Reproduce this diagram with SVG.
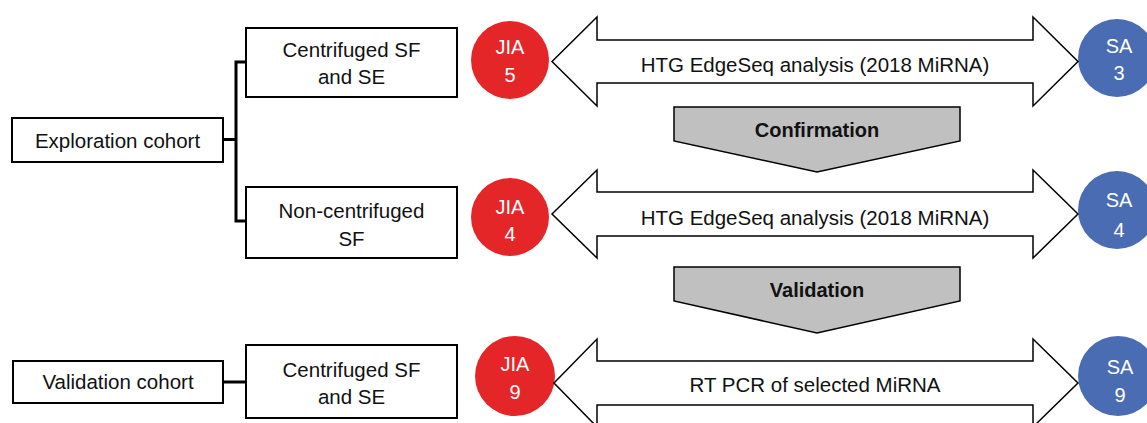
<svg xmlns="http://www.w3.org/2000/svg" width="1147" height="423" viewBox="0 0 1147 423">
<style>
.box{fill:#fff;stroke:#000;stroke-width:2}
.t{font-family:"Liberation Sans",Arial,sans-serif;font-size:20.5px;fill:#111;text-anchor:middle}
.w{font-family:"Liberation Sans",Arial,sans-serif;font-size:20px;fill:#fff;text-anchor:middle}
.b{font-family:"Liberation Sans",Arial,sans-serif;font-size:20px;font-weight:bold;fill:#111;text-anchor:middle}
.red{fill:#e52629}
.blue{fill:#4a6cb3}
.arr{fill:#fff;stroke:#000;stroke-width:1.5;stroke-linejoin:miter}
.pent{fill:#c0c0c0;stroke:#000;stroke-width:1.5}
.ln{fill:none;stroke:#000;stroke-width:3}
</style>
<rect width="1147" height="423" fill="#fff"/>
<g id="connectors">
<path class="ln" d="M223 139.5H236M236 62V221M234.5 62H246M234.5 221H246"/>
<path class="ln" d="M223 382H246"/>
</g>
<g id="exploration">
<rect class="box" x="12" y="118" width="211" height="44"/>
<text class="t" x="117.5" y="148">Exploration cohort</text>
</g>
<g id="centrifuged1">
<rect class="box" x="246" y="28" width="211" height="69"/>
<text class="t" x="351.5" y="57">Centrifuged SF</text>
<text class="t" x="351.5" y="84">and SE</text>
</g>
<g id="noncentrifuged">
<rect class="box" x="246" y="187" width="211" height="71"/>
<text class="t" x="351.5" y="218">Non-centrifuged</text>
<text class="t" x="351.5" y="246">SF</text>
</g>
<g id="validationcohort">
<rect class="box" x="13" y="361" width="210" height="42"/>
<text class="t" x="118" y="389">Validation cohort</text>
</g>
<g id="centrifuged2">
<rect class="box" x="246" y="345" width="211" height="73"/>
<text class="t" x="351.5" y="377">Centrifuged SF</text>
<text class="t" x="351.5" y="404">and SE</text>
</g>
<g id="jia5">
<circle class="red" cx="510" cy="60" r="39"/>
<text class="w" x="510" y="54">JIA</text>
<text class="w" x="510" y="82">5</text>
</g>
<g id="jia4">
<circle class="red" cx="510" cy="217" r="39"/>
<text class="w" x="510" y="214">JIA</text>
<text class="w" x="510" y="241">4</text>
</g>
<g id="jia9">
<circle class="red" cx="515" cy="376" r="40"/>
<text class="w" x="515" y="371">JIA</text>
<text class="w" x="515" y="399">9</text>
</g>
<g id="sa3">
<circle class="blue" cx="1117" cy="58" r="39"/>
<text class="w" x="1119" y="53">SA</text>
<text class="w" x="1119" y="80">3</text>
</g>
<g id="sa4">
<circle class="blue" cx="1117" cy="210" r="39"/>
<text class="w" x="1119" y="207">SA</text>
<text class="w" x="1119" y="237">4</text>
</g>
<g id="sa9">
<circle class="blue" cx="1118" cy="376" r="40"/>
<text class="w" x="1120" y="374">SA</text>
<text class="w" x="1120" y="402">9</text>
</g>
<g id="arrow1">
<polygon class="arr" points="552,61.5 597,17 597,40 1033,40 1033,17 1078,61.5 1033,106 1033,83 597,83 597,106"/>
<text class="t" x="815" y="72">HTG EdgeSeq analysis (2018 MiRNA)</text>
</g>
<g id="arrow2">
<polygon class="arr" points="552,214 597,170 597,192 1033,192 1033,170 1078,214 1033,258 1033,236 597,236 597,258"/>
<text class="t" x="815" y="225">HTG EdgeSeq analysis (2018 MiRNA)</text>
</g>
<g id="arrow3">
<polygon class="arr" points="554,383 597,339 597,361 1033,361 1033,339 1078,383 1033,427 1033,405 597,405 597,427"/>
<text class="t" x="815" y="392">RT PCR of selected MiRNA</text>
</g>
<g id="confirmation">
<polygon class="pent" points="674,107 960,107 960,141 817,172 674,141"/>
<text class="b" x="817" y="137">Confirmation</text>
</g>
<g id="validation">
<polygon class="pent" points="674,267 960,267 960,301 817,333 674,301"/>
<text class="b" x="817" y="297">Validation</text>
</g>
</svg>
